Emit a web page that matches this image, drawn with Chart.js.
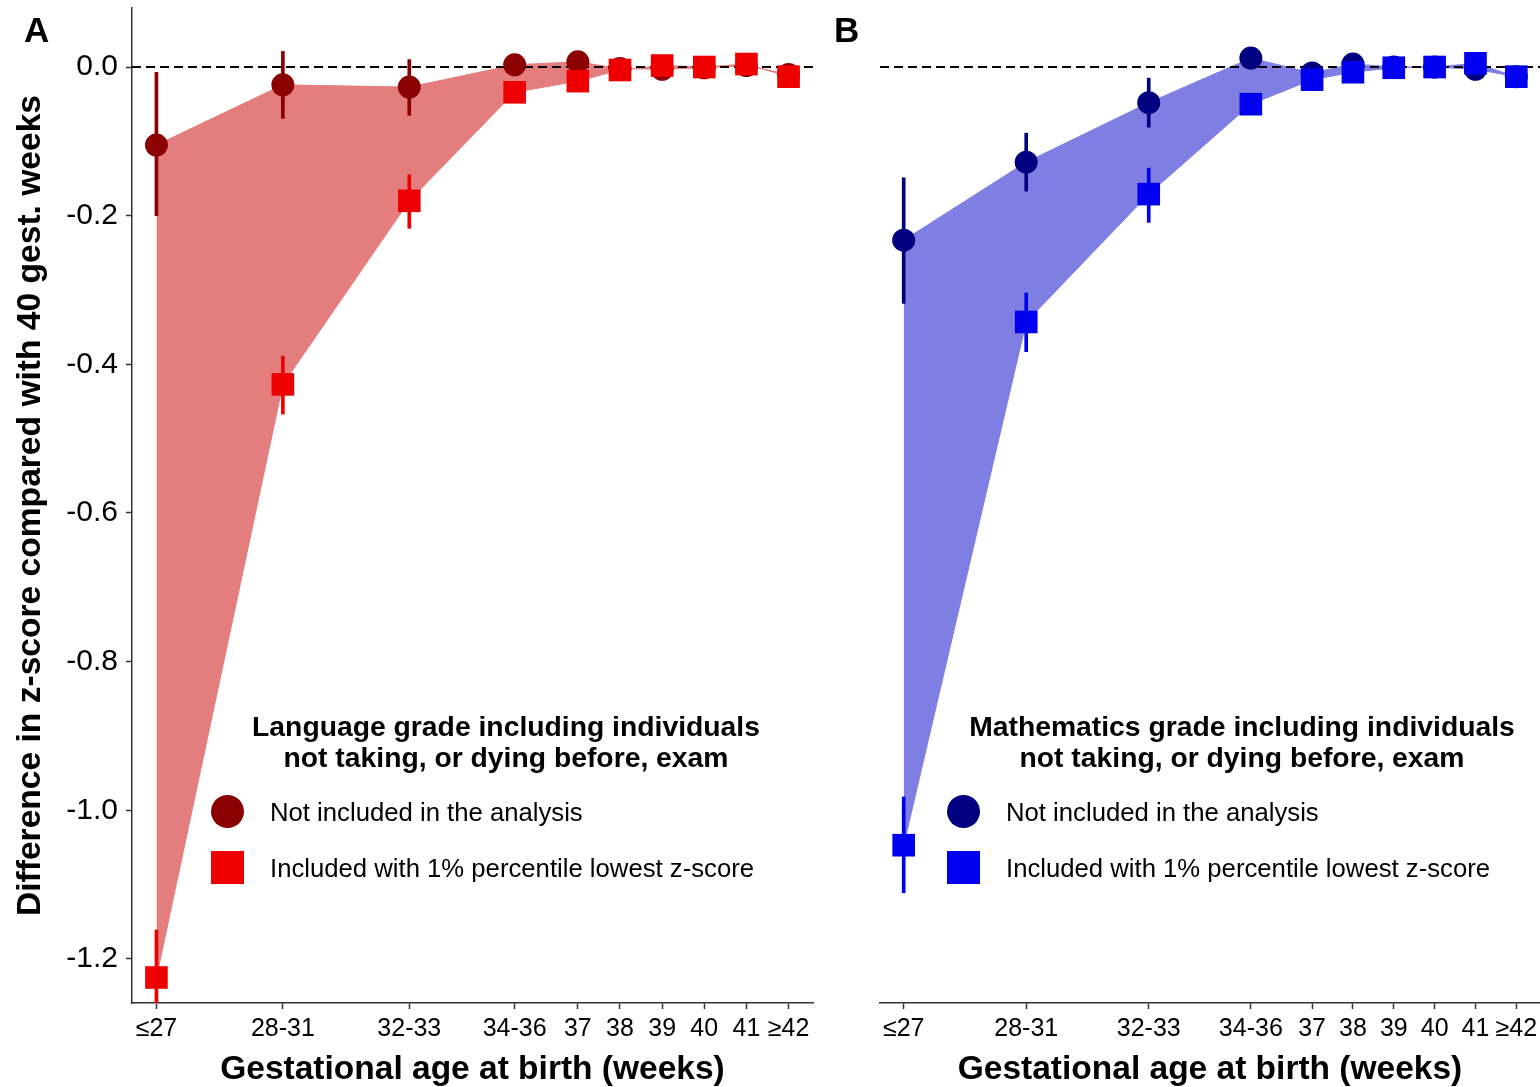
<!DOCTYPE html>
<html>
<head>
<meta charset="utf-8">
<script src="https://cdn.jsdelivr.net/npm/chart.js@4.4.0/dist/chart.umd.min.js"></script>
<style>
  body { margin: 0; background: #fff; width: 1540px; height: 1087px; position: relative; overflow: hidden;
         font-family: "Liberation Sans", Arial, sans-serif; color: #000; }
  canvas { position: absolute; top: 0; }
  #graficoA { left: 0; }
  #graficoB { left: 820px; }
  .letra { position: absolute; font-weight: bold; font-size: 35px; line-height: 36px; }
  .titulo-leyenda { position: absolute; width: 640px; text-align: center; font-weight: bold; font-size: 28.3px; line-height: 31px; white-space: nowrap; }
  .texto-leyenda { position: absolute; font-size: 25.7px; line-height: 34px; white-space: nowrap; }
  .marca { position: absolute; width: 33px; height: 33px; }
  .marca.circulo { border-radius: 50%; }
</style>
</head>
<body>
<canvas id="graficoA" width="820" height="1087"></canvas>
<canvas id="graficoB" width="720" height="1087"></canvas>

<div class="letra" style="left:24px; top:12px;">A</div>
<div class="letra" style="left:834px; top:12px;">B</div>

<!-- leyenda panel A -->
<div class="titulo-leyenda" style="left:186px; top:711px;">Language grade including individuals<br>not taking, or dying before, exam</div>
<div class="marca circulo" style="left:211px; top:795px; background:#8B0000;"></div>
<div class="texto-leyenda" style="left:270px; top:795px;">Not included in the analysis</div>
<div class="marca" style="left:211px; top:851px; background:#EE0000;"></div>
<div class="texto-leyenda" style="left:270px; top:851px;">Included with 1% percentile lowest z-score</div>

<!-- leyenda panel B -->
<div class="titulo-leyenda" style="left:922px; top:711px;">Mathematics grade including individuals<br>not taking, or dying before, exam</div>
<div class="marca circulo" style="left:947px; top:795px; background:#000080;"></div>
<div class="texto-leyenda" style="left:1006px; top:795px;">Not included in the analysis</div>
<div class="marca" style="left:947px; top:851px; background:#0000EE;"></div>
<div class="texto-leyenda" style="left:1006px; top:851px;">Included with 1% percentile lowest z-score</div>

<script>
// Semanas (posición en el eje) y etiquetas
const semanas = [27, 30, 33, 35.5, 37, 38, 39, 40, 41, 42];
const etiquetasSemanas = ['≤27', '28-31', '32-33', '34-36', '37', '38', '39', '40', '41', '≥42'];
const ticksY = [-1.2, -1.0, -0.8, -0.6, -0.4, -0.2, 0];

// Panel A: lenguaje
const lenguaNoIncl    = [-0.105, -0.024, -0.027, 0.003, 0.007, -0.002, -0.003, -0.001, 0.002, -0.010];
const lenguaNoInclInf = [-0.200, -0.069, -0.065, -0.006, -0.001, -0.008, -0.009, -0.006, -0.004, -0.018];
const lenguaNoInclSup = [-0.007, 0.021, 0.010, 0.012, 0.015, 0.004, 0.003, 0.004, 0.008, -0.002];
const lenguaIncl      = [-1.225, -0.427, -0.180, -0.034, -0.019, -0.004, 0.002, 0.000, 0.004, -0.013];
const lenguaInclInf   = [-1.290, -0.467, -0.217, -0.042, -0.026, -0.009, -0.003, -0.005, -0.001, -0.020];
const lenguaInclSup   = [-1.161, -0.389, -0.145, -0.026, -0.012, 0.001, 0.007, 0.005, 0.009, -0.006];

// Panel B: matemáticas
const mateNoIncl    = [-0.233, -0.128, -0.048, 0.012, -0.008, 0.004, 0.000, 0.000, -0.003, -0.013];
const mateNoInclInf = [-0.318, -0.167, -0.081, 0.004, -0.016, -0.002, -0.005, -0.005, -0.008, -0.020];
const mateNoInclSup = [-0.149, -0.089, -0.015, 0.020, 0.000, 0.010, 0.005, 0.005, 0.002, -0.006];
const mateIncl      = [-1.047, -0.343, -0.171, -0.050, -0.017, -0.007, -0.001, 0.000, 0.005, -0.013];
const mateInclInf   = [-1.111, -0.383, -0.209, -0.058, -0.024, -0.012, -0.006, -0.005, 0.000, -0.020];
const mateInclSup   = [-0.982, -0.304, -0.136, -0.042, -0.010, -0.002, 0.004, 0.005, 0.010, -0.006];

const X_MIN = 26.42, X_MAX = 42.58;
const Y_MIN = -1.2593, Y_MAX = 0.0794;
const FUENTE = '"Liberation Sans", Arial, sans-serif';

function puntos(vals) {
  return vals.map((v, i) => ({ x: semanas[i], y: v }));
}
function barrasError(inf, sup) {
  return inf.map((v, i) => ({ x: semanas[i], y: [v, sup[i]] }));
}

function crearPanel(idCanvas, s, colores, conEjeY) {
  const ctx = document.getElementById(idCanvas).getContext('2d');
  return new Chart(ctx, {
    type: 'line',
    data: {
      datasets: [
        // banda entre las dos series
        { data: puntos(s.noIncl), fill: '+1', backgroundColor: colores.banda, borderColor: colores.banda,
          borderWidth: 1, pointRadius: 0, tension: 0, order: 10 },
        { data: puntos(s.incl), fill: false, borderColor: colores.banda, borderWidth: 1, pointRadius: 0, order: 9 },
        // linea de referencia en cero
        { data: [{ x: X_MIN, y: 0 }, { x: X_MAX, y: 0 }], borderColor: '#000', borderWidth: 2,
          borderDash: [9, 5], pointRadius: 0, fill: false, order: 8 },
        // intervalos
        { type: 'bar', data: barrasError(s.noInclInf, s.noInclSup), backgroundColor: colores.circulo,
          barThickness: 3, grouped: false, borderWidth: 0, order: 7 },
        { type: 'bar', data: barrasError(s.inclInf, s.inclSup), backgroundColor: colores.cuadrado,
          barThickness: 3, grouped: false, borderWidth: 0, order: 6 },
        // puntos
        { data: puntos(s.noIncl), showLine: false, pointStyle: 'circle', pointRadius: 11.5,
          pointBackgroundColor: colores.circulo, pointBorderWidth: 0, order: 2 },
        { data: puntos(s.incl), showLine: false, pointStyle: 'rect', pointRadius: 16,
          pointBackgroundColor: colores.cuadrado, pointBorderWidth: 0, order: 1 }
      ]
    },
    options: {
      animation: false,
      responsive: false,
      events: [],
      layout: {
        autoPadding: false,
        padding: conEjeY ? { top: 8, right: 7, left: 0, bottom: 0 } : { top: 8, right: 0, left: 60, bottom: 0 }
      },
      plugins: { legend: { display: false }, tooltip: { enabled: false } },
      scales: {
        x: {
          type: 'linear', min: X_MIN, max: X_MAX, offset: false,
          afterBuildTicks: (escala) => { escala.ticks = semanas.map(v => ({ value: v })); },
          afterFit: (escala) => {
            escala.height = 84;
            escala.paddingLeft = 0;
            escala.paddingRight = 0;
          },
          ticks: {
            autoSkip: false, maxRotation: 0, color: '#000', padding: 5,
            font: { size: 25, family: FUENTE },
            callback: (v, i) => etiquetasSemanas[i]
          },
          grid: { offset: false, drawOnChartArea: false, drawTicks: true, tickLength: 6, tickColor: '#333', tickWidth: 1.5 },
          border: { display: true, color: '#333', width: 1.5 },
          title: {
            display: true, text: 'Gestational age at birth (weeks)', color: '#000',
            font: { size: 33.5, weight: 'bold', family: FUENTE }, padding: { top: 0, bottom: -3 }
          }
        },
        y: {
          type: 'linear', min: Y_MIN, max: Y_MAX, display: conEjeY,
          afterBuildTicks: (escala) => { escala.ticks = ticksY.map(v => ({ value: v })); },
          afterFit: (escala) => {
            if (conEjeY) escala.width = 132;
            escala.paddingTop = 0;
            escala.paddingBottom = 0;
          },
          ticks: {
            color: '#000', padding: 8, font: { size: 30, family: FUENTE },
            callback: (v) => v.toFixed(1)
          },
          grid: { drawOnChartArea: false, drawTicks: true, tickLength: 6, tickColor: '#333', tickWidth: 1.5 },
          border: { display: true, color: '#333', width: 1.5 },
          title: {
            display: true, text: 'Difference in z-score compared with 40 gest. weeks', color: '#000',
            font: { size: 33.6, weight: 'bold', family: FUENTE }, padding: { top: 11, bottom: 0 }
          }
        }
      }
    }
  });
}

crearPanel('graficoA', {
  noIncl: lenguaNoIncl, noInclInf: lenguaNoInclInf, noInclSup: lenguaNoInclSup,
  incl: lenguaIncl, inclInf: lenguaInclInf, inclSup: lenguaInclSup
}, { banda: '#E47E7E', circulo: '#8B0000', cuadrado: '#EE0000' }, true);

crearPanel('graficoB', {
  noIncl: mateNoIncl, noInclInf: mateNoInclInf, noInclSup: mateNoInclSup,
  incl: mateIncl, inclInf: mateInclInf, inclSup: mateInclSup
}, { banda: '#7F7FE3', circulo: '#000080', cuadrado: '#0000EE' }, false);
</script>
</body>
</html>
